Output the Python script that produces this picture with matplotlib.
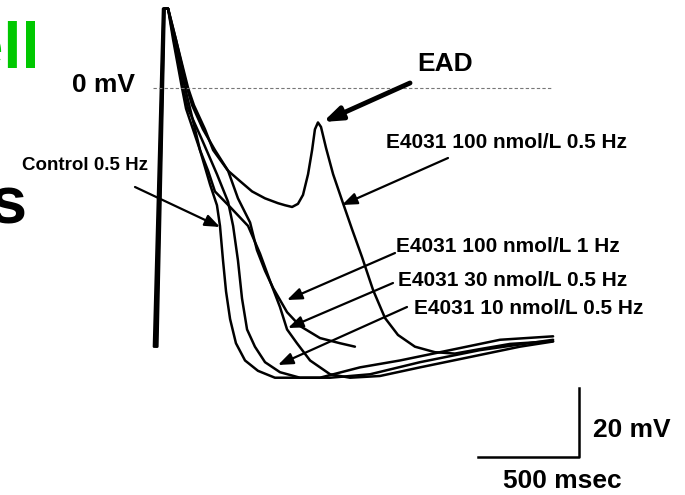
import numpy as np
import matplotlib.pyplot as plt

plt.rcParams['font.family'] = ['Liberation Sans', 'DejaVu Sans']

# action potential traces, time in ms, membrane potential in mV
ctrl_t = [-45, 0, 25, 50, 94, 114, 183, 233, 267, 282, 297, 312, 332, 361, 406, 470, 554, 653, 777, 975, 1173, 1421, 1668, 1931]
ctrl_v = [-75, 23, 23, 14, 0, -6, -18, -28, -34, -40, -50, -59, -67, -74, -79, -82, -84, -84, -84, -81, -79, -76, -73, -72]

e10_t = [-35, 5, 25, 54, 99, 124, 193, 267, 322, 347, 371, 391, 416, 455, 505, 579, 678, 827, 1025, 1272, 1569, 1931]
e10_v = [-75, 23, 23, 14, 0, -6, -15, -25, -33, -40, -50, -61, -70, -75, -79.5, -82.4, -84, -84, -83, -79.5, -76, -73]

e30_t = [-40, 3, 25, 59, 109, 134, 183, 223, 257, 332, 421, 480, 530, 579, 614, 663, 728, 827, 926, 1074, 1272, 1520, 1767, 1931]
e30_v = [-75, 23, 23, 14, 0, -6, -18, -24, -30, -34.5, -40, -48, -56, -63.5, -70, -74, -79, -83, -84, -83.5, -81, -78, -75, -73.5]

e100_1hz_t = [-28, 8, 25, 64, 119, 144, 198, 257, 322, 371, 431, 465, 505, 545, 614, 678, 777, 876, 950]
e100_1hz_v = [-75, 23, 23, 14, 0, -5, -12, -18, -24, -32, -39, -47, -53, -58, -65, -69, -72.5, -74, -75]

ead_t = [-32, 6, 25, 64, 124, 153, 208, 248, 322, 381, 441, 505, 569, 604, 639, 668, 693, 718, 738, 752,
         767, 782, 807, 842, 891, 936, 985, 1040, 1099, 1163, 1247, 1346, 1445, 1569, 1718, 1931]
ead_v = [-75, 23, 23, 14, 0, -5, -12, -18, -24, -27, -30, -32, -33.4, -34, -34.5, -33.6, -31, -25, -18, -12,
         -10, -11.3, -17.4, -25, -33.4, -41, -49, -58.6, -66.7, -71.6, -75, -76.6, -77, -75.7, -74.2, -73.4]

traces = [(ctrl_t, ctrl_v), (e10_t, e10_v), (e30_t, e30_v), (e100_1hz_t, e100_1hz_v), (ead_t, ead_v)]

# scale bar: 500 ms by 20 mV
bar_ms = 500
bar_mv = 20

W, H = 685, 495
fig = plt.figure(figsize=(W / 100, H / 100), dpi=100)
ax = fig.add_axes([0, 0, 1, 1])
ax.set_xlim(-807, 2584)
ax.set_ylim(-118, 25.5)
ax.axis('off')

for t, v in traces:
    ax.plot(t, v, color='black', lw=1.8, solid_joinstyle='round', solid_capstyle='round')

# 0 mV reference
ax.plot([-50, 1926], [0, 0], color='#777777', lw=0.8, ls=(0, (3, 2)))

# scale bar
bx, by = 2059, -107
ax.plot([bx - bar_ms, bx, bx], [by, by, by + bar_mv], color='black', lw=1.8)


def fp(x, y):
    return (x / W, 1 - y / H)


def label(x, y, s, size, **kw):
    fig.text(*fp(x, y), s, fontsize=size, fontweight='bold', ha='center', va='center', **kw)


label(103, 85, '0 mV', 19)
label(445, 64, 'EAD', 19)
label(506, 143, 'E4031 100 nmol/L 0.5 Hz', 15)
label(508, 246, 'E4031 100 nmol/L 1 Hz', 15)
label(513, 281, 'E4031 30 nmol/L 0.5 Hz', 15)
label(529, 308, 'E4031 10 nmol/L 0.5 Hz', 15)
label(85, 166, 'Control 0.5 Hz', 13.5)
label(632, 430, '20 mV', 19)
label(562, 481, '500 msec', 19)

# slide title fragments at the left edge
fig.text(*fp(40, 68), 'Cell', fontsize=47, fontweight='bold', color='#00c800', ha='right', va='baseline')
fig.text(*fp(27, 223), 's', fontsize=48, fontweight='bold', color='black', ha='right', va='baseline')


def arrow(x0, y0, x1, y1, lw=1.6, hl=0.9, hw=0.35):
    ax.annotate('', xy=fp(x1, y1), xycoords='figure fraction',
                xytext=fp(x0, y0), textcoords='figure fraction',
                arrowprops=dict(arrowstyle=f'-|>,head_length={hl},head_width={hw}',
                                color='black', lw=lw, shrinkA=0, shrinkB=0))


arrow(410, 83, 323, 122, lw=3.5, hl=1.1, hw=0.4)
arrow(448, 158, 342, 205)
arrow(395, 253, 287, 300)
arrow(393, 283, 288, 328)
arrow(407, 307, 278, 365)
arrow(135, 187, 220, 227)

fig.savefig('out.png', dpi=100)
